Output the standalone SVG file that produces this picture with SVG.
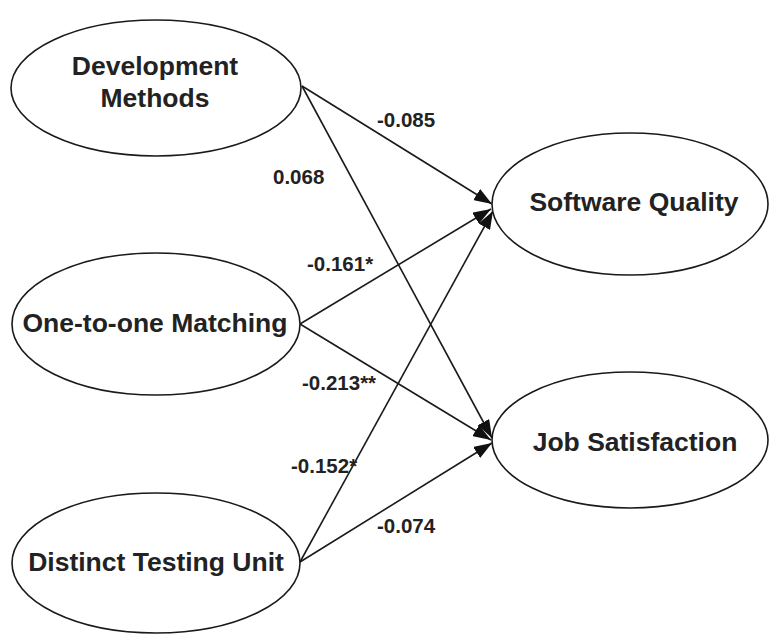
<svg xmlns="http://www.w3.org/2000/svg" width="769" height="635" viewBox="0 0 769 635">
<style>
.node{fill:#fff;stroke:#1a1a1a;stroke-width:1.6}
.nt{font-family:"Liberation Sans",Arial,sans-serif;font-weight:bold;font-size:26.5px;fill:#222;text-anchor:middle}
.el{font-family:"Liberation Sans",Arial,sans-serif;font-weight:bold;font-size:20.5px;fill:#222}
.edge{stroke:#1a1a1a;stroke-width:1.6;fill:none;marker-end:url(#ah)}
</style>
<defs>
<marker id="ah" markerUnits="userSpaceOnUse" markerWidth="19" markerHeight="13" refX="18" refY="6.5" orient="auto">
<path d="M0,0 L18,6.5 L0,13 z" fill="#111"/>
</marker>
</defs>
<rect width="769" height="635" fill="#fff"/>
<g id="connectors">
<line class="edge" x1="302" y1="86" x2="492" y2="204"/>
<line class="edge" x1="302" y1="86" x2="492" y2="438"/>
<line class="edge" x1="300" y1="324" x2="491" y2="209"/>
<line class="edge" x1="300" y1="324" x2="491" y2="440"/>
<line class="edge" x1="300" y1="562" x2="493" y2="211"/>
<line class="edge" x1="300" y1="562" x2="492" y2="443"/>
</g>
<g id="labels">
<text class="el" x="377" y="127">-0.085</text>
<text class="el" x="273" y="184">0.068</text>
<text class="el" x="307" y="271">-0.161*</text>
<text class="el" x="302" y="390">-0.213**</text>
<text class="el" x="291" y="473">-0.152*</text>
<text class="el" x="377" y="533">-0.074</text>
</g>
<g id="development-methods">
<ellipse class="node" cx="156" cy="88" rx="145" ry="68"/>
<text class="nt" x="155" y="75">Development</text>
<text class="nt" x="155" y="107">Methods</text>
</g>
<g id="one-to-one-matching">
<ellipse class="node" cx="156" cy="324" rx="144" ry="71"/>
<text class="nt" x="155" y="332">One-to-one Matching</text>
</g>
<g id="distinct-testing-unit">
<ellipse class="node" cx="156" cy="563" rx="144" ry="70"/>
<text class="nt" x="156" y="571">Distinct Testing Unit</text>
</g>
<g id="software-quality">
<ellipse class="node" cx="630" cy="204" rx="138" ry="71"/>
<text class="nt" x="634" y="211">Software Quality</text>
</g>
<g id="job-satisfaction">
<ellipse class="node" cx="630" cy="440" rx="138" ry="68"/>
<text class="nt" x="635" y="451">Job Satisfaction</text>
</g>
</svg>
